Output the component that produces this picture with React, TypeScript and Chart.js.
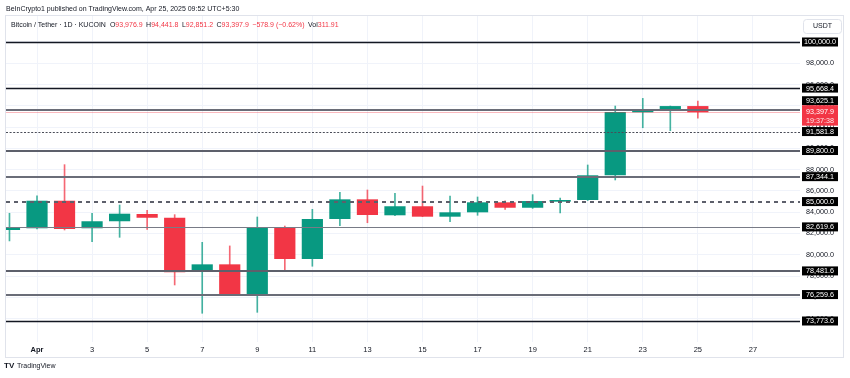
import React, { useEffect, useRef } from 'react';
import { Chart, registerables } from 'chart.js';

Chart.register(...registerables);

// ---- data ----
const dates = [
  'Mar 31', 'Apr 1', 'Apr 2', 'Apr 3', 'Apr 4', 'Apr 5', 'Apr 6', 'Apr 7', 'Apr 8', 'Apr 9',
  'Apr 10', 'Apr 11', 'Apr 12', 'Apr 13', 'Apr 14', 'Apr 15', 'Apr 16', 'Apr 17', 'Apr 18',
  'Apr 19', 'Apr 20', 'Apr 21', 'Apr 22', 'Apr 23', 'Apr 24', 'Apr 25',
];
const opens = [
  82330, 82490, 85080, 82490, 83150, 83830, 83480, 78410, 79100, 76250,
  82540, 79600, 83360, 85210, 83710, 84560, 83580, 83990, 84930,
  84420, 84990, 85150, 87470, 93390, 93610, 93976.9,
];
const highs = [
  83900, 85550, 88470, 83900, 84680, 84180, 83770, 81170, 80830, 83550,
  82700, 84270, 85870, 86090, 85780, 86460, 85520, 85430, 85080,
  85650, 85340, 88440, 93980, 94700, 93980, 94441.8,
];
const lows = [
  81300, 82440, 82330, 81240, 81640, 82390, 77160, 74500, 76250, 74590,
  78410, 78920, 82730, 83010, 83670, 83580, 83110, 83710, 84270,
  84360, 83930, 85100, 87030, 91940, 91660, 92851.2,
];
const closes = [
  82540, 85080, 82420, 83150, 83860, 83480, 78350, 79100, 76250, 82540,
  79600, 83360, 85210, 83740, 84560, 83580, 83990, 84930, 84420,
  85050, 85150, 87470, 93420, 93610, 93976.8, 93397.9,
];

const levels = [100000, 95668.4, 93625.1, 91581.8, 89800, 87344.1, 85000, 82619.6, 78481.6, 76259.6, 73773.6];
const priceTicks = [74000, 76000, 78000, 80000, 82000, 84000, 86000, 88000, 90000, 92000, 94000, 96000, 98000, 100000];
const timeTicks = [1, 3, 5, 7, 9, 11, 13, 15, 17, 19, 21, 23, 25, 27];
const timeTickLabels = ['Apr', '3', '5', '7', '9', '11', '13', '15', '17', '19', '21', '23', '25', '27'];

const currentPrice = 93397.9;
const countdown = '19:37:38';
const publishLine = 'BeInCrypto1 published on TradingView.com, Apr 25, 2025 09:52 UTC+5:30';
const symbolTitle = 'Bitcoin / Tether · 1D · KUCOIN';
const quoteLabels = ['O', 'H', 'L', 'C', '', 'Vol'];
const quoteValues = ['93,976.9', '94,441.8', '92,851.2', '93,397.9', '−578.9 (−0.62%)', '311.91'];

// ---- styles ----
const GREEN = '#089981';
const RED = '#f23645';
const DARK = '#131722';
const FONT = "'Liberation Sans', Arial, sans-serif";

const levelStyles = [
  { color: '#131722', width: 1.5, dash: [] as number[] },
  { color: '#131722', width: 1.5, dash: [] },
  { color: '#6a6d78', width: 2, dash: [] },
  { color: '#4a4d58', width: 1, dash: [2, 1.6] },
  { color: '#5d606b', width: 2, dash: [] },
  { color: '#6a6d78', width: 2, dash: [] },
  { color: '#5d606b', width: 2, dash: [4, 4] },
  { color: '#787b86', width: 1.2, dash: [] },
  { color: '#5d606b', width: 2, dash: [] },
  { color: '#6a6d78', width: 2, dash: [] },
  { color: '#131722', width: 1.5, dash: [] },
];

const fmt = (v: number) =>
  v.toLocaleString('en-US', { minimumFractionDigits: 1, maximumFractionDigits: 1 });

const decorPlugin = {
  id: 'tvDecor',
  beforeDraw(chart: any) {
    const ctx = chart.ctx;
    ctx.save();
    ctx.fillStyle = '#ffffff';
    ctx.fillRect(0, 0, chart.width, chart.height);
    ctx.restore();
  },
  afterDatasetsDraw(chart: any) {
    const ctx = chart.ctx;
    const area = chart.chartArea;
    const yS = chart.scales.y;
    ctx.save();
    // current price line
    const cy = Math.round(yS.getPixelForValue(currentPrice)) + 0.5;
    ctx.strokeStyle = 'rgba(242,54,69,0.35)';
    ctx.lineWidth = 1;
    ctx.beginPath();
    ctx.moveTo(area.left, cy);
    ctx.lineTo(area.right, cy);
    ctx.stroke();
    // level lines
    levels.forEach((v, i) => {
      const st = levelStyles[i];
      let y = yS.getPixelForValue(v);
      y = st.width >= 2 ? Math.round(y) : Math.round(y) + 0.5;
      ctx.strokeStyle = st.color;
      ctx.lineWidth = st.width;
      ctx.setLineDash(st.dash);
      ctx.beginPath();
      ctx.moveTo(area.left, y);
      ctx.lineTo(area.right, y);
      ctx.stroke();
    });
    ctx.setLineDash([]);
    ctx.restore();
  },
  afterDraw(chart: any) {
    const ctx = chart.ctx;
    const area = chart.chartArea;
    const yS = chart.scales.y;
    ctx.save();

    // outer frame
    ctx.strokeStyle = '#e0e3eb';
    ctx.lineWidth = 1;
    ctx.strokeRect(5.5, 15.5, 838, 342);

    // price-axis labels for levels
    const boxX = area.right + 2;
    const boxW = 36;
    const boxH = 9;
    const curY = yS.getPixelForValue(currentPrice);
    const redTop = curY - 7;
    const redH = 20.4;
    ctx.font = `7.2px ${FONT}`;
    ctx.textAlign = 'center';
    ctx.textBaseline = 'middle';
    levels.forEach((v) => {
      let cy = yS.getPixelForValue(v);
      if (cy + boxH / 2 > redTop && cy - boxH / 2 < redTop + redH) {
        cy = cy < curY + 3 ? redTop - boxH / 2 : redTop + redH + boxH / 2;
      }
      ctx.fillStyle = '#000000';
      ctx.fillRect(boxX, cy - boxH / 2, boxW, boxH);
      ctx.fillStyle = '#ffffff';
      ctx.fillText(fmt(v), boxX + boxW / 2, cy + 0.5);
    });
    // current price label
    ctx.fillStyle = RED;
    ctx.fillRect(boxX, redTop, boxW, redH);
    ctx.fillStyle = '#ffffff';
    ctx.fillText(fmt(currentPrice), boxX + boxW / 2, curY);
    ctx.fillStyle = '#ffe8ea';
    ctx.fillText(countdown, boxX + boxW / 2, curY + 9);

    // USDT box
    ctx.fillStyle = '#ffffff';
    ctx.strokeStyle = '#e0e3eb';
    ctx.beginPath();
    (ctx as any).roundRect(803.5, 19.5, 38, 14, 3);
    ctx.fill();
    ctx.stroke();
    ctx.fillStyle = DARK;
    ctx.font = `7px ${FONT}`;
    ctx.fillText('USDT', 822.5, 26.5);

    // header line 1
    ctx.textAlign = 'left';
    ctx.font = `7px ${FONT}`;
    ctx.fillStyle = DARK;
    ctx.fillText(publishLine, 6, 9);

    // header line 2
    let x = 11;
    const y2 = 25;
    ctx.fillStyle = DARK;
    ctx.fillText(symbolTitle, x, y2);
    x += ctx.measureText(symbolTitle).width + 4;
    quoteLabels.forEach((lab, i) => {
      if (lab) {
        ctx.fillStyle = DARK;
        ctx.fillText(lab, x, y2);
        x += ctx.measureText(lab).width;
      }
      ctx.fillStyle = RED;
      ctx.fillText(quoteValues[i], x, y2);
      x += ctx.measureText(quoteValues[i]).width + 3.5;
    });

    // TradingView logo
    ctx.fillStyle = DARK;
    ctx.font = `bold 8px ${FONT}`;
    ctx.fillText('TV', 4, 366);
    ctx.font = `7px ${FONT}`;
    ctx.fillText('TradingView', 17, 366);

    ctx.restore();
  },
};

export default function App() {
  const ref = useRef<HTMLCanvasElement | null>(null);

  useEffect(() => {
    const canvas = ref.current;
    if (!canvas) return;
    const bodyColors = opens.map((o, i) => (closes[i] >= o ? GREEN : RED));
    const wickColors = opens.map((o, i) => (closes[i] >= o ? 'rgba(8,153,129,0.75)' : 'rgba(242,54,69,0.75)'));

    const chart = new Chart(canvas, {
      type: 'bar',
      data: {
        datasets: [
          {
            label: 'body',
            data: dates.map((_, i) => ({ x: i, y: [opens[i], closes[i]] })) as any,
            backgroundColor: bodyColors,
            borderWidth: 0,
            grouped: false,
            barPercentage: 0.77,
            categoryPercentage: 1,
          } as any,
          {
            label: 'wick',
            data: dates.map((_, i) => ({ x: i, y: [lows[i], highs[i]] })) as any,
            backgroundColor: wickColors,
            borderWidth: 0,
            grouped: false,
            barThickness: 1,
          } as any,
        ],
      },
      options: {
        responsive: false,
        animation: false,
        devicePixelRatio: 1,
        layout: { padding: { left: 6, top: 16, right: 7, bottom: 21 } },
        plugins: { legend: { display: false }, tooltip: { enabled: false } },
        scales: {
          x: {
            type: 'linear',
            min: -0.126,
            max: 28.71,
            offset: false,
            grid: { color: '#f0f3fa', offset: false, drawTicks: false },
            border: { display: false },
            afterBuildTicks: (s: any) => {
              s.ticks = timeTicks.map((v) => ({ value: v }));
            },
            afterFit: (s: any) => {
              s.height = 15;
            },
            ticks: {
              padding: 3,
              autoSkip: false,
              maxRotation: 0,
              color: DARK,
              font: (c: any) => ({
                family: FONT,
                size: 7.5,
                weight: c.tick && c.tick.value === 1 ? 'bold' : 'normal',
              }),
              callback: (v: any) => {
                const idx = timeTicks.indexOf(Number(v));
                return idx >= 0 ? timeTickLabels[idx] : '';
              },
            },
          },
          y: {
            type: 'linear',
            position: 'right',
            min: 71800,
            max: 102444,
            grid: { color: '#f0f3fa', drawTicks: false },
            border: { display: false },
            afterBuildTicks: (s: any) => {
              s.ticks = priceTicks.map((v) => ({ value: v }));
            },
            afterFit: (s: any) => {
              s.width = 43;
            },
            ticks: {
              padding: 6,
              color: DARK,
              font: { family: FONT, size: 7.2 },
              callback: (v: any) => fmt(Number(v)),
            },
          },
        },
      } as any,
      plugins: [decorPlugin],
    });

    return () => chart.destroy();
  }, []);

  return (
    <div style={{ position: 'absolute', left: 0, top: 0, width: 850, height: 378, background: '#fff' }}>
      <canvas ref={ref} width={850} height={378} style={{ width: 850, height: 378, display: 'block' }} />
    </div>
  );
}
